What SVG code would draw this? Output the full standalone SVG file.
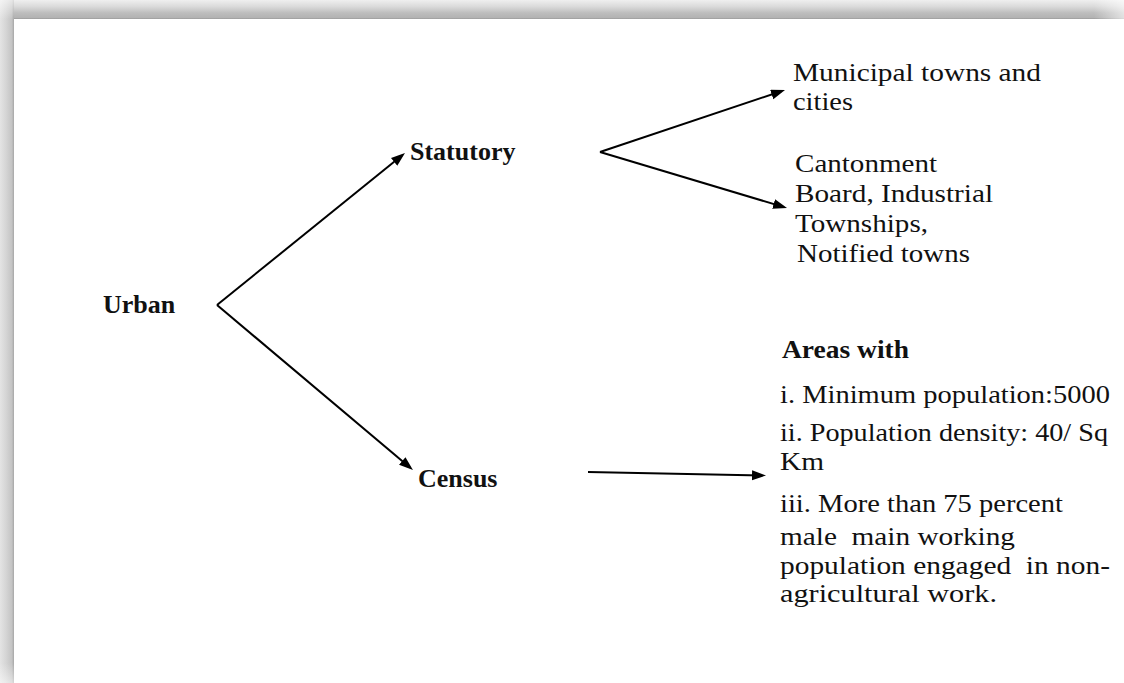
<svg xmlns="http://www.w3.org/2000/svg" width="1124" height="683" viewBox="0 0 1124 683">
  <defs>
    <style>
      .t { font-family: "Liberation Serif", "Times New Roman", serif; font-size: 26px; fill: #111; }
      .b { font-weight: bold; }
      .c { stroke: #000; stroke-width: 2; fill: none; marker-end: url(#arrow); }
    </style>
    <marker id="arrow" markerUnits="userSpaceOnUse" markerWidth="16" markerHeight="12" refX="10" refY="5" orient="auto">
      <path d="M0,0 L14,5 L0,10 z" fill="#000"/>
    </marker>
    <linearGradient id="gTop" x1="0" y1="0" x2="0" y2="1">
      <stop offset="0" stop-color="#efefef"/>
      <stop offset="0.35" stop-color="#dadada"/>
      <stop offset="0.68" stop-color="#bdbdbd"/>
      <stop offset="0.94" stop-color="#b2b2b2"/>
      <stop offset="1" stop-color="#979797"/>
    </linearGradient>
    <linearGradient id="gLeft" x1="0" y1="0" x2="1" y2="0">
      <stop offset="0" stop-color="#e4e4e4"/>
      <stop offset="0.4" stop-color="#d6d6d6"/>
      <stop offset="0.85" stop-color="#c4c4c4"/>
      <stop offset="1" stop-color="#a6a6a6"/>
    </linearGradient>
    <linearGradient id="gFadeR" x1="0" y1="0" x2="1" y2="0">
      <stop offset="0" stop-color="#fff" stop-opacity="0"/>
      <stop offset="1" stop-color="#fff" stop-opacity="0.6"/>
    </linearGradient>
    <linearGradient id="gFadeB" x1="0" y1="0" x2="0" y2="1">
      <stop offset="0" stop-color="#fff" stop-opacity="0"/>
      <stop offset="1" stop-color="#fff" stop-opacity="0.5"/>
    </linearGradient>
    <linearGradient id="gFadeT" x1="0" y1="0" x2="0" y2="1">
      <stop offset="0" stop-color="#fff" stop-opacity="0.6"/>
      <stop offset="1" stop-color="#fff" stop-opacity="0"/>
    </linearGradient>
  </defs>

  <rect x="0" y="0" width="1124" height="683" fill="#fff"/>

  <g id="frame">
    <rect x="0" y="0" width="14" height="683" fill="url(#gLeft)"/>
    <rect x="0" y="0" width="14" height="19" fill="url(#gFadeT)"/>
    <rect x="0" y="663" width="14" height="20" fill="url(#gFadeB)"/>
    <rect x="14" y="0" width="1110" height="19" fill="url(#gTop)"/>
    <rect x="1094" y="0" width="30" height="19" fill="url(#gFadeR)"/>
  </g>

  <g id="connectors">
    <line class="c" x1="217" y1="305" x2="401.9" y2="155.5"/>
    <line class="c" x1="217" y1="305" x2="409.9" y2="467.4"/>
    <line class="c" x1="600" y1="152" x2="781.2" y2="91.3"/>
    <line class="c" x1="600" y1="152" x2="783.2" y2="206.9"/>
    <line class="c" x1="588" y1="472" x2="762" y2="475.4"/>
  </g>

  <g id="urban">
    <text class="t b" x="103" y="313">Urban</text>
  </g>

  <g id="statutory">
    <text class="t b" x="410" y="160">Statutory</text>
  </g>

  <g id="census">
    <text class="t b" x="418" y="487">Census</text>
  </g>

  <g id="municipal">
    <text class="t" x="793" y="81" textLength="248" lengthAdjust="spacingAndGlyphs">Municipal towns and</text>
    <text class="t" x="793" y="110" textLength="60" lengthAdjust="spacingAndGlyphs">cities</text>
  </g>

  <g id="cantonment">
    <text class="t" x="795" y="172" textLength="142" lengthAdjust="spacingAndGlyphs">Cantonment</text>
    <text class="t" x="795" y="202" textLength="198" lengthAdjust="spacingAndGlyphs">Board, Industrial</text>
    <text class="t" x="795" y="232" textLength="133" lengthAdjust="spacingAndGlyphs">Townships,</text>
    <text class="t" x="797" y="262" textLength="173" lengthAdjust="spacingAndGlyphs">Notified towns</text>
  </g>

  <g id="census-criteria">
    <text class="t b" x="782" y="358" textLength="127" lengthAdjust="spacingAndGlyphs">Areas with</text>
    <text class="t" x="780" y="403" textLength="330" lengthAdjust="spacingAndGlyphs">i. Minimum population:5000</text>
    <text class="t" x="780" y="441" textLength="328" lengthAdjust="spacingAndGlyphs">ii. Population density: 40/ Sq</text>
    <text class="t" x="780" y="470" textLength="44" lengthAdjust="spacingAndGlyphs">Km</text>
    <text class="t" x="780" y="512" textLength="283" lengthAdjust="spacingAndGlyphs">iii. More than 75 percent</text>
    <text class="t" x="780" y="545" textLength="235" lengthAdjust="spacingAndGlyphs" xml:space="preserve">male  main working</text>
    <text class="t" x="780" y="574" textLength="330" lengthAdjust="spacingAndGlyphs" xml:space="preserve">population engaged  in non-</text>
    <text class="t" x="780" y="602" textLength="217" lengthAdjust="spacingAndGlyphs">agricultural work.</text>
  </g>
</svg>
